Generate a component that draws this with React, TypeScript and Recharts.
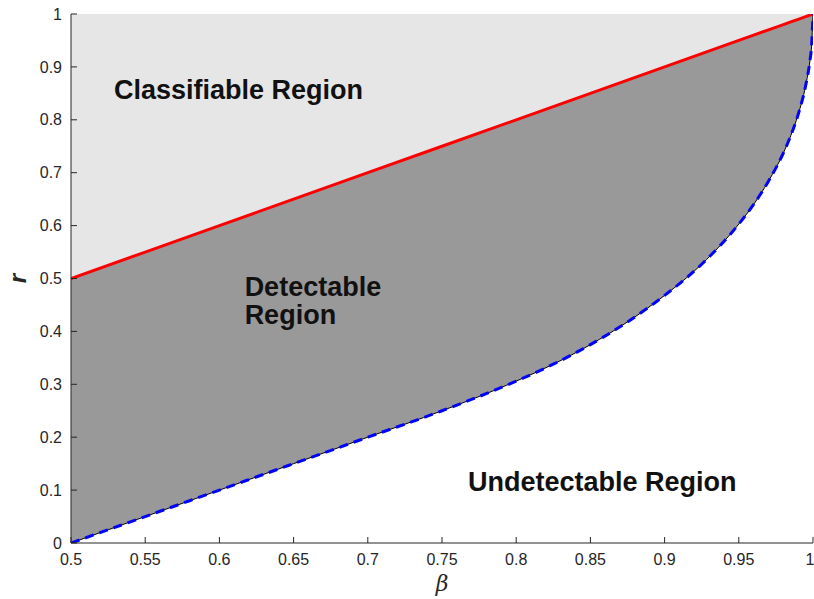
import React from "react";
import { ComposedChart, Area, Line, XAxis, YAxis, ReferenceDot } from "recharts";

// values
const betaValues = [
  0.5, 0.55, 0.6, 0.65, 0.7, 0.75, 0.8, 0.825, 0.85, 0.875, 0.9, 0.925, 0.95,
  0.96, 0.97, 0.98, 0.985, 0.99, 0.995, 0.998, 0.999, 1,
];
const classifiableBoundary = [
  0.5, 0.55, 0.6, 0.65, 0.7, 0.75, 0.8, 0.825, 0.85, 0.875, 0.9, 0.925, 0.95,
  0.96, 0.97, 0.98, 0.985, 0.99, 0.995, 0.998, 0.999, 1,
];
const detectableBoundary = [
  0, 0.05, 0.1, 0.15, 0.2, 0.25, 0.306, 0.338, 0.375, 0.418, 0.468, 0.527,
  0.603, 0.64, 0.684, 0.737, 0.77, 0.81, 0.864, 0.913, 0.938, 1,
];
const xTicks = [0.5, 0.55, 0.6, 0.65, 0.7, 0.75, 0.8, 0.85, 0.9, 0.95, 1];
const yTicks = [0, 0.1, 0.2, 0.3, 0.4, 0.5, 0.6, 0.7, 0.8, 0.9, 1];

const regionLabels = [
  { lines: ["Classifiable Region"], beta: 0.529, r: 0.839 },
  { lines: ["Detectable", "Region"], beta: 0.617, r: 0.467 },
  { lines: ["Undetectable Region"], beta: 0.7675, r: 0.098 },
];

const data = betaValues.map((b, i) => ({
  beta: b,
  red: classifiableBoundary[i],
  blue: detectableBoundary[i],
  top: [classifiableBoundary[i], 1],
  mid: [detectableBoundary[i], classifiableBoundary[i]],
}));

const FONT = "'Liberation Sans', Arial, Helvetica, sans-serif";
const tickStyle = { fontSize: 16, fill: "#262626", fontFamily: FONT };
const axisColor = "#262626";

export default function App() {
  return (
    <div style={{ position: "absolute", left: 0, top: 0, fontFamily: FONT }}>
      <ComposedChart
        width={814}
        height={599}
        data={data}
        margin={{ top: 14, right: 1, bottom: 0, left: 0 }}
      >
        <XAxis
          xAxisId="b"
          dataKey="beta"
          type="number"
          domain={[0.5, 1]}
          ticks={xTicks}
          allowDataOverflow
          height={56}
          stroke={axisColor}
          tickSize={-6}
          tickMargin={17}
          tick={tickStyle}
          tickFormatter={(v: number) => String(v)}
          label={{
            content: (p: any) => (
              <text
                x={p.viewBox.x + p.viewBox.width / 2}
                y={591}
                textAnchor="middle"
                fontSize={22}
                fontStyle="italic"
                fill="#262626"
                fontFamily="'DejaVu Serif', serif"
              >
                β
              </text>
            ),
          }}
        />
        <XAxis
          xAxisId="t"
          orientation="top"
          type="number"
          dataKey="beta"
          domain={[0.5, 1]}
          ticks={xTicks}
          allowDataOverflow
          height={0}
          stroke={axisColor}
          tickSize={-6}
          tick={false}
        />
        <YAxis
          yAxisId="l"
          type="number"
          domain={[0, 1]}
          ticks={yTicks}
          allowDataOverflow
          width={71}
          stroke={axisColor}
          tickSize={-6}
          tickMargin={15}
          tick={tickStyle}
          tickFormatter={(v: number) => String(v)}
          label={{
            content: (p: any) => {
              const cx = 17;
              const cy = p.viewBox.y + p.viewBox.height / 2;
              return (
                <text
                  x={cx}
                  y={cy}
                  textAnchor="middle"
                  dominantBaseline="central"
                  transform={`rotate(-90 ${cx} ${cy})`}
                  fontSize={24}
                  fontWeight="bold"
                  fontStyle="italic"
                  fill="#262626"
                  fontFamily={FONT}
                >
                  r
                </text>
              );
            },
          }}
        />
        <YAxis
          yAxisId="rt"
          orientation="right"
          type="number"
          domain={[0, 1]}
          ticks={yTicks}
          allowDataOverflow
          width={0}
          stroke={axisColor}
          tickSize={-6}
          tick={false}
        />
        <Area
          xAxisId="b"
          yAxisId="l"
          dataKey="top"
          type="linear"
          fill="#e6e6e6"
          fillOpacity={1}
          stroke="none"
          isAnimationActive={false}
        />
        <Area
          xAxisId="b"
          yAxisId="l"
          dataKey="mid"
          type="monotone"
          fill="#999999"
          fillOpacity={1}
          stroke="#000"
          strokeWidth={1}
          isAnimationActive={false}
        />
        <Line
          xAxisId="b"
          yAxisId="l"
          dataKey="red"
          type="linear"
          stroke="#ff0000"
          strokeWidth={3}
          dot={false}
          isAnimationActive={false}
        />
        <Line
          xAxisId="b"
          yAxisId="l"
          dataKey="blue"
          type="monotone"
          stroke="#0000ff"
          strokeWidth={3}
          strokeDasharray="9 6"
          dot={false}
          isAnimationActive={false}
        />
        {regionLabels.map((lab) => (
          <ReferenceDot
            key={lab.lines.join(" ")}
            xAxisId="b"
            yAxisId="l"
            x={lab.beta}
            y={lab.r}
            r={0}
            fill="none"
            stroke="none"
            label={{
              content: (p: any) => (
                <text
                  x={p.viewBox.x}
                  y={p.viewBox.y}
                  fontSize={27}
                  fontWeight="bold"
                  fill="#111"
                  fontFamily={FONT}
                >
                  {lab.lines.map((ln, i) => (
                    <tspan key={ln} x={p.viewBox.x} dy={i === 0 ? 0 : 28}>
                      {ln}
                    </tspan>
                  ))}
                </text>
              ),
            }}
          />
        ))}
      </ComposedChart>
    </div>
  );
}
